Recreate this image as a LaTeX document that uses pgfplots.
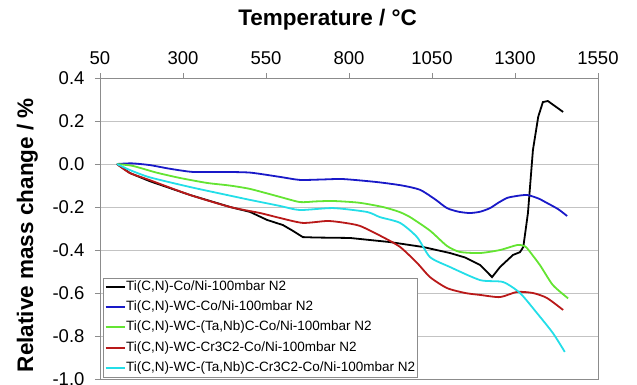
\documentclass[border=0pt]{standalone}
\usepackage{fontspec}
\setmainfont{Liberation Sans}
\usepackage{pgfplots}
\pgfplotsset{compat=1.18}
\definecolor{cBlue}{RGB}{25,25,200}
\definecolor{cGreen}{RGB}{100,228,50}
\definecolor{cRed}{RGB}{185,25,25}
\definecolor{cCyan}{RGB}{35,222,232}
\definecolor{axisgray}{RGB}{140,140,140}
\definecolor{gridgray}{RGB}{195,195,195}
\begin{document}
\begin{tikzpicture}
\begin{axis}[
  scale only axis, width=498pt, height=301pt,
  xmin=50, xmax=1550, ymin=-1, ymax=0.4,
  xtick={50,300,550,800,1050,1300,1550},
  ytick={-1,-0.8,-0.6,-0.4,-0.2,0,0.2,0.4},
  xtick pos=upper, ytick pos=lower, xticklabel pos=upper,
  tick align=outside, major tick length=5pt,
  axis line style={draw=axisgray, line width=0.8pt},
  every tick/.style={draw=axisgray, line width=0.8pt},
  ymajorgrids, grid style={draw=gridgray, line width=0.8pt},
  /pgf/number format/assume math mode=true,
  yticklabel style={/pgf/number format/.cd, fixed, fixed zerofill, precision=1, /tikz/.cd, xshift=-7pt},
  xticklabel style={/pgf/number format/.cd, fixed, 1000 sep={}, /tikz/.cd, yshift=5pt},
  tick label style={font=\fontsize{18.5}{20}\selectfont},
  xlabel={Temperature / °C},
  xlabel style={at={(rel axis cs:0.457,1.176)}, anchor=base, font=\fontsize{22.5}{24}\selectfont\bfseries},
  ylabel={Relative mass change / \%},
  ylabel style={at={(rel axis cs:-0.1345,0.478)}, anchor=base, font=\fontsize{22.5}{24}\selectfont\bfseries},
  legend cell align=left,
  legend image code/.code={\draw[#1, line width=2pt] (0pt,0pt) -- (19pt,0pt);},
  legend style={at={(rel axis cs:0.006,0.006)}, anchor=south west, draw=axisgray, fill=white, inner sep=1.5pt, font=\fontsize{13.5}{15}\selectfont, row sep=5.3pt, nodes={inner sep=0.5pt, text height=10.5pt, text depth=3.5pt}, /tikz/every even column/.append style={column sep=0pt}},
  every axis plot/.append style={line width=1.8pt},
]
\addplot[black] coordinates {
(101,0) (140,-0.042) (200,-0.08) (321,-0.144) (442,-0.2) (502,-0.223) (553,-0.26) (601,-0.284) (630,-0.31) (661,-0.34) (700,-0.342) (803,-0.344) (923,-0.363) (1023,-0.386) (1104,-0.414) (1150,-0.435) (1195,-0.47) (1231,-0.526) (1255,-0.479) (1294,-0.423) (1315,-0.41) (1325,-0.386) (1339,-0.228) (1354,0.065) (1370,0.22) (1384,0.288) (1399,0.293) (1445,0.242)
};
\addlegendentry{Ti(C,N)-Co/Ni-100mbar N2}
\addplot[cBlue, smooth, tension=0.4] coordinates {
(101,0) (146,0.003) (200,-0.005) (260,-0.022) (330,-0.037) (420,-0.037) (502,-0.04) (592,-0.06) (652,-0.074) (720,-0.072) (782,-0.07) (884,-0.084) (960,-0.1) (1014,-0.12) (1060,-0.165) (1095,-0.205) (1130,-0.222) (1164,-0.228) (1195,-0.222) (1225,-0.205) (1250,-0.18) (1276,-0.158) (1300,-0.15) (1336,-0.144) (1370,-0.16) (1396,-0.181) (1430,-0.21) (1457,-0.242)
};
\addlegendentry{Ti(C,N)-WC-Co/Ni-100mbar N2}
\addplot[cGreen, smooth, tension=0.4] coordinates {
(101,0) (149,-0.009) (220,-0.04) (291,-0.065) (372,-0.088) (440,-0.1) (502,-0.116) (592,-0.153) (652,-0.177) (700,-0.174) (752,-0.172) (830,-0.18) (902,-0.2) (950,-0.222) (984,-0.247) (1044,-0.31) (1095,-0.381) (1134,-0.409) (1195,-0.414) (1255,-0.4) (1306,-0.377) (1325,-0.38) (1336,-0.391) (1375,-0.47) (1414,-0.563) (1460,-0.625)
};
\addlegendentry{Ti(C,N)-WC-(Ta,Nb)C-Co/Ni-100mbar N2}
\addplot[cRed, smooth, tension=0.4] coordinates {
(101,0) (140,-0.042) (200,-0.075) (321,-0.144) (442,-0.2) (532,-0.228) (592,-0.251) (661,-0.274) (734,-0.265) (780,-0.272) (833,-0.288) (902,-0.34) (954,-0.386) (1005,-0.46) (1044,-0.526) (1095,-0.577) (1150,-0.6) (1195,-0.609) (1255,-0.619) (1306,-0.595) (1354,-0.6) (1396,-0.623) (1445,-0.679)
};
\addlegendentry{Ti(C,N)-WC-Cr3C2-Co/Ni-100mbar N2}
\addplot[cCyan, smooth, tension=0.4] coordinates {
(101,0) (140,-0.028) (200,-0.062) (321,-0.107) (420,-0.14) (502,-0.167) (592,-0.195) (652,-0.214) (752,-0.205) (854,-0.223) (893,-0.247) (954,-0.274) (1005,-0.34) (1044,-0.433) (1104,-0.479) (1195,-0.54) (1264,-0.549) (1315,-0.6) (1366,-0.693) (1414,-0.786) (1450,-0.874)
};
\addlegendentry{Ti(C,N)-WC-(Ta,Nb)C-Cr3C2-Co/Ni-100mbar N2}
\end{axis}
\pgfresetboundingbox
\path (current axis.south west) ++(-100pt,-5pt) rectangle ++(637pt,384pt);
\end{tikzpicture}
\end{document}
